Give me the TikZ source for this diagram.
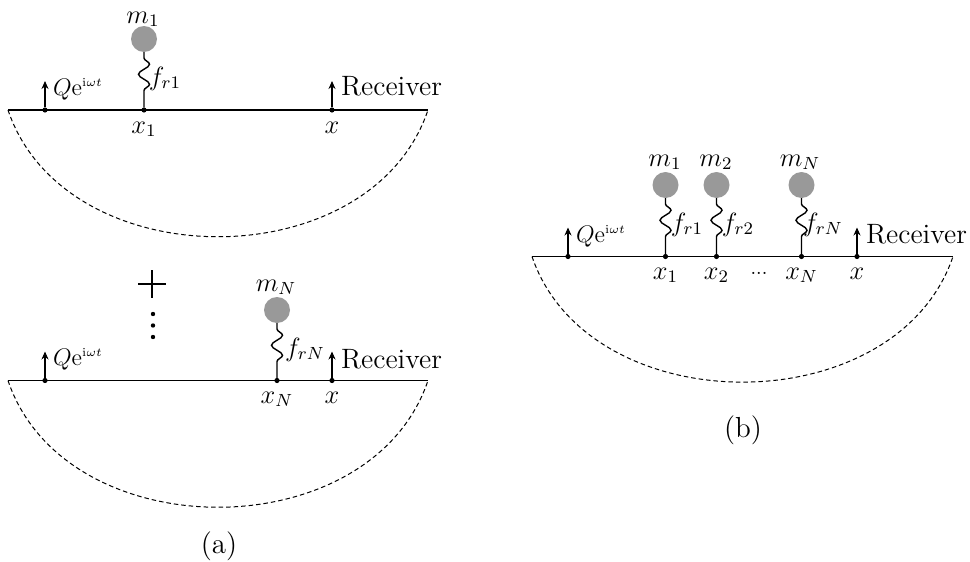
\documentclass[tikz,border=0pt]{standalone}
\usetikzlibrary{decorations.pathmorphing,arrows.meta}
\newcommand{\qexp}{$Q\mathrm{e}^{\scriptscriptstyle\mathrm{i}\omega t}$}
\tikzset{
 x=1pt,y=-1pt,
 every node/.style={scale=2,font=\fontsize{12}{14}\selectfont,inner sep=0pt,outer sep=0pt,text=black},
 ground/.style={line width=1.2pt,draw=black},
 bowl/.style={line width=1pt,draw=black,dash pattern=on 4.5pt off 3pt},
 pt/.style={circle,fill=black,minimum size=2.6pt},
 tinydot/.style={circle,fill=black,minimum size=2.2pt},
 mass/.style={circle,fill=black!40,minimum size=13pt},
 spring/.style={line width=1.4pt,decorate,decoration={snake,amplitude=5.5pt,segment length=20pt,pre length=6pt,post length=12pt}},
 up/.style={line width=1.1pt,-{Stealth[length=8pt,width=7pt]}},
 recv/.style={font=\fontsize{14}{16}\selectfont,anchor=base west},
 lab/.style={anchor=base,scale=1.1},
 srclab/.style={anchor=base},
 captext/.style={font=\fontsize{14.5}{16}\selectfont}
}
\begin{document}
\begin{tikzpicture}
\useasboundingbox (0,0) rectangle (970,562);
% ---- top of (a)
\coordinate (a1l) at (8,110); \coordinate (a1r) at (428,110);
\draw[ground] (a1l) -- (a1r);
\draw[bowl] (a1l) .. controls (65,279) and (371,279) .. (a1r);
\node[pt] (a1s) at (45,110) {};
\node[pt] (a1m) at (144,110) {};
\node[pt] (a1x) at (332,110) {};
\coordinate (a1st) at (45,81); \coordinate (a1xt) at (332,81);
\draw[up] (a1s) -- (a1st);
\draw[up] (a1x) -- (a1xt);
\node[mass] (a1b) at (144,39) {};
\draw[spring] (a1b) -- (a1m);
\node[srclab] (a1q) at (78,95) {\qexp};
\node[lab] (a1mm) at (143,23) {$m_1$};
\node[lab] (a1f) at (165,85) {$f_{r1}$};
\node[recv] (a1rc) at (341,95) {Receiver};
\node[lab] (a1xl) at (144,133) {$x_1$};
\node[lab] (a1xx) at (332,133) {$x$};
% ---- plus and dots
\coordinate (pl) at (138,284); \coordinate (pr) at (166,284);
\coordinate (ptop) at (152,270); \coordinate (pbot) at (152,298);
\draw[line width=1.3pt] (pl) -- (pr);
\draw[line width=1.3pt] (ptop) -- (pbot);
\node[tinydot] (d1) at (153,314) {};
\node[tinydot] (d2) at (153,325.5) {};
\node[tinydot] (d3) at (153,337) {};
% ---- bottom of (a)
\coordinate (a2l) at (8,380.5); \coordinate (a2r) at (428,380.5);
\draw[ground] (a2l) -- (a2r);
\draw[bowl] (a2l) .. controls (65,549.5) and (371,549.5) .. (a2r);
\node[pt] (a2s) at (45,380.5) {};
\node[pt] (a2m) at (277,380.5) {};
\node[pt] (a2x) at (332,380.5) {};
\coordinate (a2st) at (45,351.5); \coordinate (a2xt) at (332,351.5);
\draw[up] (a2s) -- (a2st);
\draw[up] (a2x) -- (a2xt);
\node[mass] (a2b) at (277,310) {};
\draw[spring] (a2b) -- (a2m);
\node[srclab] (a2q) at (78,365.5) {\qexp};
\node[lab] (a2mm) at (276,291) {$m_N$};
\node[lab] (a2f) at (305,356) {$f_{rN}$};
\node[recv] (a2rc) at (341,368) {Receiver};
\node[lab] (a2xl) at (277,403) {$x_N$};
\node[lab] (a2xx) at (332,403) {$x$};
\node[captext,anchor=base] (capa) at (219,553) {(a)};
% ---- (b)
\coordinate (bl) at (532,256.5); \coordinate (br) at (953,256.5);
\draw[ground] (bl) -- (br);
\draw[bowl] (bl) .. controls (589,424) and (896,424) .. (br);
\node[pt] (bs) at (568,256.5) {};
\node[pt] (b1) at (665.5,256.5) {};
\node[pt] (b2) at (716.5,256.5) {};
\node[pt] (bn) at (801.5,256.5) {};
\node[pt] (bx) at (857,256.5) {};
\coordinate (bst) at (568,227.5); \coordinate (bxt) at (857,227.5);
\draw[up] (bs) -- (bst);
\draw[up] (bx) -- (bxt);
\node[mass] (bm1) at (665.5,185) {};
\node[mass] (bm2) at (716.5,185) {};
\node[mass] (bmn) at (801.5,185) {};
\draw[spring] (bm1) -- (b1);
\draw[spring] (bm2) -- (b2);
\draw[spring] (bmn) -- (bn);
\node[srclab] (bq) at (601,242) {\qexp};
\node[lab] (bl1) at (665,166) {$m_1$};
\node[lab] (bl2) at (716,166) {$m_2$};
\node[lab] (bln) at (800,166) {$m_N$};
\node[lab] (bf1) at (687,231) {$f_{r1}$};
\node[lab] (bf2) at (738,231) {$f_{r2}$};
\node[lab] (bfn) at (823,231) {$f_{rN}$};
\node[recv] (brc) at (866,243) {Receiver};
\node[lab] (bx1) at (665.5,279) {$x_1$};
\node[lab] (bx2) at (716.5,279) {$x_2$};
\node[lab] (bxn) at (801.5,279) {$x_N$};
\node[lab] (bxx) at (857,279) {$x$};
\node[anchor=base,font=\fontsize{10}{11}\selectfont] (bdots) at (759,274) {...};
\node[captext,anchor=base] (capb) at (743,437) {(b)};
\end{tikzpicture}
\end{document}
